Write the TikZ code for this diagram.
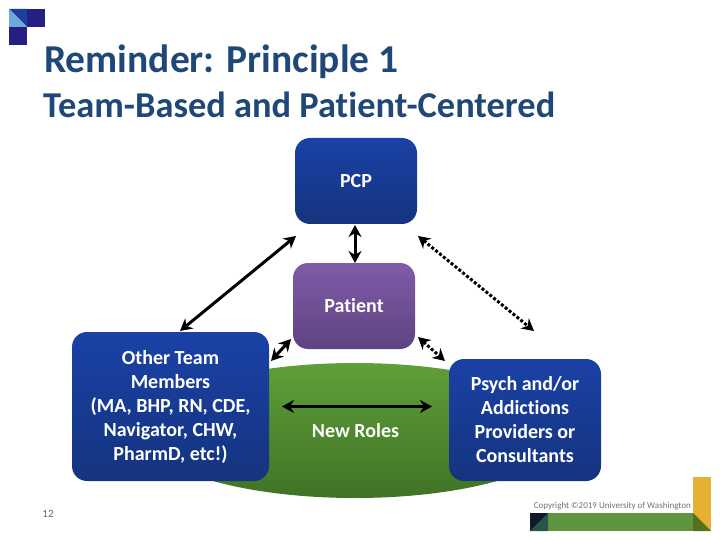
\documentclass[tikz,border=0pt]{standalone}
\usepackage{fontspec}
\setmainfont{Carlito}[Ligatures={NoRequired,NoCommon,NoContextual}]
\usetikzlibrary{arrows.meta, positioning, shapes.geometric, calc}

\definecolor{titleblue}{HTML}{1F4778}
\definecolor{navy}{HTML}{241F80}
\definecolor{logomid}{HTML}{1F3F9F}
\definecolor{logolight}{HTML}{6FA8DC}
\definecolor{teamtop}{HTML}{1A41A6}
\definecolor{teambot}{HTML}{15347F}
\definecolor{patienttop}{HTML}{805CA8}
\definecolor{patientbot}{HTML}{5E4380}
\definecolor{rolestop}{HTML}{5F9F38}
\definecolor{rolesbot}{HTML}{3F7326}
\definecolor{bargreen}{HTML}{5F9440}
\definecolor{bardark}{HTML}{14182C}
\definecolor{barteal}{HTML}{22574A}
\definecolor{bargold}{HTML}{E4B133}
\definecolor{barolive}{HTML}{57701A}

\begin{document}
\begin{tikzpicture}[
    x=1pt, y=-1pt,
    >={Stealth[length=12pt, width=13pt]},
    role/.style={rounded corners=15pt, minimum height=86pt, outer sep=0pt, inner sep=2pt,
        text=white, font=\fontsize{20}{24}\selectfont\bfseries, align=center},
    team/.style={role, top color=teamtop, bottom color=teambot},
    link/.style={<->, line width=3pt},
    dotlink/.style={<->, line width=3pt, dash pattern=on 3pt off 2pt},
    titletext/.style={anchor=west, text=titleblue, inner sep=0pt},
]

\useasboundingbox[fill=white] (0,0) rectangle (720,540);

% === LOGO ===
\fill[navy] (27,9) rectangle (45,27);
\fill[navy] (9,27) rectangle (27,45);
\fill[logomid] (9,9) -- (27,9) -- (27,27) -- cycle;
\fill[logolight] (9,9) -- (27,27) -- (9,27) -- cycle;

% === TITLE ===
\node[titletext, font=\fontsize{39.5}{42}\selectfont\bfseries] (title) at (44,62) {Reminder: Principle 1};
\node[titletext, font=\fontsize{36.4}{40}\selectfont\bfseries] (subtitle) at (43,105) {Team-Based and Patient-Centered};

% === ROLES ===
\node[ellipse, minimum width=428pt, minimum height=135pt, inner sep=0pt, outer sep=0pt,
    top color=rolestop, bottom color=rolesbot] (roles) at (355,430.5) {};
\node[team, minimum width=122pt] (pcp) at (356,181) {PCP};
\node[role, minimum width=122pt, top color=patienttop, bottom color=patientbot,
    below=39pt of pcp, xshift=-2pt] (patient) {Patient};
\node[team, minimum width=197pt, minimum height=149pt] (others) at (170.5,406.5)
    {Other Team\\Members\\(MA, BHP, RN, CDE,\\Navigator, CHW,\\PharmD, etc!)};
\node[team, minimum width=152pt, minimum height=122pt] (psych) at (525,420)
    {Psych and/or\\Addictions\\Providers or\\Consultants};
\node[text=white, font=\fontsize{20}{24}\selectfont\bfseries] (newroles) at (355.5,431) {New Roles};

% === ARROWS ===
\coordinate (pcp_l) at ($(pcp.south west)+(1,12)$);
\coordinate (pcp_r) at ($(pcp.south east)+(1,12)$);
\coordinate (pcp_b) at ($(pcp.south)+(-1,1)$);
\coordinate (patient_t) at ($(patient.north)+(1,0)$);
\coordinate (others_t) at ($(others.north)+(9.5,-1)$);
\coordinate (psych_t) at ($(psych.north)+(9,-28)$);
\coordinate (patient_l) at ($(patient.south west)+(-2,-10)$);
\coordinate (patient_r) at ($(patient.south east)+(3,-12)$);
\coordinate (others_r) at ($(others.north east)+(2,29)$);
\coordinate (psych_l) at ($(psych.north west)+(-4,2)$);
\coordinate (roles_l) at ($(others.east)+(13,0)$);
\coordinate (roles_r) at ($(psych.west)+(-17,-13.5)$);

\draw[link] (others_t) -- (pcp_l);
\draw[link] (pcp_b) -- (patient_t);
\draw[dotlink] (pcp_r) -- (psych_t);
\draw[link] (patient_l) -- (others_r);
\draw[dotlink] (patient_r) -- (psych_l);
\draw[link] (roles_l) -- (roles_r);

% === FOOTER ===
\node[text=black!60, font=\fontsize{11}{12}\selectfont] (pagenum) at (48,514) {12};
\node[text=black!55, font=\fontsize{9}{10}\selectfont, anchor=east, inner sep=0pt] (copyright) at (691,506)
    {Copyright ©2019 University of Washington};
\fill[bargreen] (548,513) rectangle (693,531);
\fill[bardark] (530,513) rectangle (548,531);
\fill[barteal] (548,513) -- (548,531) -- (530,531) -- cycle;
\fill[bargold] (693,477) rectangle (711,531);
\fill[barolive] (693,513) -- (711,531) -- (693,531) -- cycle;

\end{tikzpicture}
\end{document}
